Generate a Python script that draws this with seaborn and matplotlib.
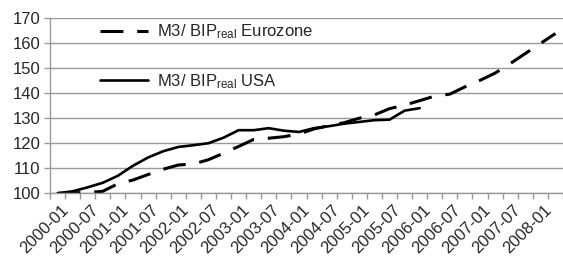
import matplotlib
matplotlib.use("Agg")
import matplotlib.pyplot as plt
import matplotlib.transforms as mtransforms
import seaborn as sns
import pandas as pd
import numpy as np

periods = ["2000-01", "2000-04", "2000-07", "2000-10",
           "2001-01", "2001-04", "2001-07", "2001-10",
           "2002-01", "2002-04", "2002-07", "2002-10",
           "2003-01", "2003-04", "2003-07", "2003-10",
           "2004-01", "2004-04", "2004-07", "2004-10",
           "2005-01", "2005-04", "2005-07", "2005-10",
           "2006-01", "2006-04", "2006-07", "2006-10",
           "2007-01", "2007-04", "2007-07", "2007-10",
           "2008-01", "2008-04"]

euro = [100.0, 100.2, 100.3, 100.8, 103.8, 105.3, 107.5, 109.6,
        111.3, 111.7, 113.4, 116.0, 118.7, 121.5, 122.0, 122.6,
        123.7, 125.7, 127.0, 128.2, 130.0, 131.3, 133.8, 135.2,
        137.0, 138.8, 139.6, 142.5, 145.1, 148.0, 151.8, 155.8,
        159.8, 163.8]

usa = [100.0, 100.8, 102.4, 104.2, 107.0, 111.0, 114.3, 116.8,
       118.5, 119.2, 120.0, 122.2, 125.2, 125.2, 126.0, 125.0,
       124.5, 126.0, 126.8, 127.8, 128.5, 129.2, 129.4, 133.0,
       134.0]

yticks = [100, 110, 120, 130, 140, 150, 160, 170]

label_euro = r"M3/ BIP$_{\mathrm{real}}$ Eurozone"
label_usa = r"M3/ BIP$_{\mathrm{real}}$ USA"

sns.set_style("white")
plt.rcParams["font.family"] = ["Liberation Sans", "DejaVu Sans"]
plt.rcParams["mathtext.fontset"] = "custom"
plt.rcParams["mathtext.rm"] = "Liberation Sans"
plt.rcParams["mathtext.it"] = "Liberation Sans"

FS = 12
GREY = "#999999"

fig = plt.figure(figsize=(5.63, 2.56), dpi=100)
ax = fig.add_axes([50 / 563, (256 - 193.3) / 256, 1 - 50 / 563, (193.3 - 18) / 256])

df_e = pd.DataFrame({"period": periods, "value": euro})
df_u = pd.DataFrame({"period": periods[:len(usa)], "value": usa})

sns.lineplot(data=df_e, x="period", y="value", ax=ax, color="black",
             lw=2.2, linestyle=(0, (7.5, 4.5)), label=label_euro, sort=False)
sns.lineplot(data=df_u, x="period", y="value", ax=ax, color="black",
             lw=1.9, label=label_usa, sort=False)

ax.set_xlim(-0.5, 32.92)
ax.set_ylim(100, 170)
ax.set_xlabel("")
ax.set_ylabel("")

ax.set_xticks(range(0, len(periods), 2))
ax.set_xticklabels(periods[::2], rotation=45, ha="right", va="top",
                   rotation_mode="anchor", fontsize=FS)
ax.set_xticks(np.arange(-0.5, len(periods), 1), minor=True)
ax.tick_params(axis="x", which="major", length=0, pad=6.5)
ax.tick_params(axis="x", which="minor", length=4, width=1, color=GREY,
               direction="out", bottom=True)
shift = mtransforms.ScaledTranslation(3 / 100, 0, fig.dpi_scale_trans)
for lab in ax.get_xticklabels():
    lab.set_transform(lab.get_transform() + shift)

ax.set_yticks(yticks)
ax.set_yticklabels([str(v) for v in yticks], fontsize=FS)
ax.tick_params(axis="y", length=4, width=1, color=GREY, direction="out",
               left=True, pad=3)

ax.grid(axis="y", color=GREY, lw=1)
ax.grid(axis="x", visible=False)
for s in ["top", "right"]:
    ax.spines[s].set_visible(False)
for s in ["left", "bottom"]:
    ax.spines[s].set_color(GREY)
    ax.spines[s].set_linewidth(1)
    ax.spines[s].set_zorder(3)

handles, labels = ax.get_legend_handles_labels()
ax.legend(handles, labels, loc="upper left", bbox_to_anchor=(0.0975, 0.975),
          frameon=False, fontsize=FS, handlelength=2.9, handletextpad=0.5,
          labelspacing=1.85, borderpad=0, borderaxespad=0)

fig.savefig("out.png", dpi=100)
